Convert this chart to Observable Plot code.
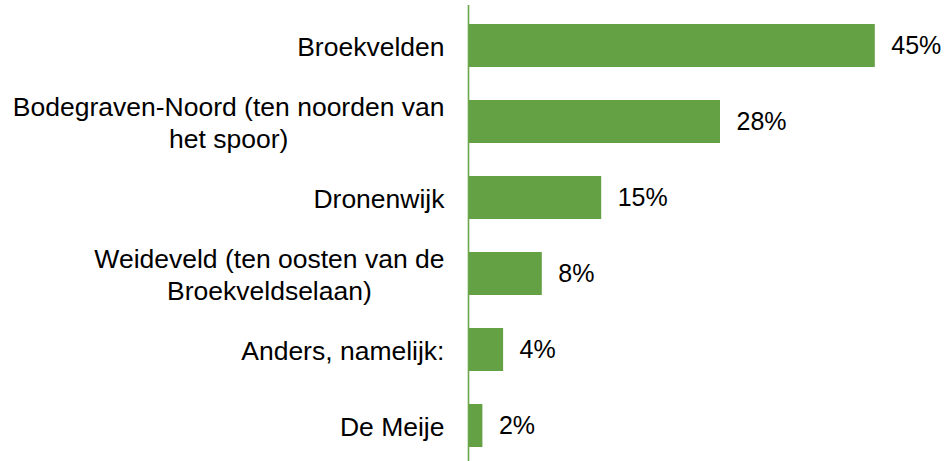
<!DOCTYPE html>
<html>
<head>
<meta charset="utf-8">
<script src="https://cdn.jsdelivr.net/npm/d3@7"></script>
<script src="https://cdn.jsdelivr.net/npm/@observablehq/plot@0.6"></script>
<style>
  html, body { margin: 0; padding: 0; background: #ffffff; }
  #chart svg { display: block; }
</style>
</head>
<body>
<div id="chart"></div>
<script>
const categories = [
  "Broekvelden",
  "Bodegraven-Noord (ten noorden van\nhet spoor)",
  "Dronenwijk",
  "Weideveld (ten oosten van de\nBroekveldselaan)",
  "Anders, namelijk:",
  "De Meije"
];
const shares = [45.2, 28.0, 14.8, 8.2, 3.9, 1.6];
const valueLabels = ["45%", "28%", "15%", "8%", "4%", "2%"];

const data = categories.map((c, i) => ({category: c, value: shares[i], label: valueLabels[i]}));

const green = "#64a044";
const font = "'Liberation Sans', Arial, sans-serif";

const chart = Plot.plot({
  width: 947,
  height: 461,
  marginLeft: 468,
  marginRight: 29,
  marginTop: 5,
  marginBottom: 0,
  style: {fontFamily: font, background: "#ffffff", color: "#000"},
  x: {domain: [0, 50], axis: null},
  y: {domain: categories, range: [5, 465], paddingInner: 0.44, paddingOuter: 0.22, axis: null},
  marks: [
    Plot.barX(data, {x: "value", y: "category", fill: green}),
    Plot.ruleX([0], {stroke: "#6aa64a", strokeWidth: 1.6}),
    Plot.text(data, {x: "value", y: "category", text: "label", textAnchor: "start", dx: 16, fontSize: 25, fill: "#000"}),
    Plot.text(data, {y: "category", text: "category", frameAnchor: "left", textAnchor: "end", dx: -24, fontSize: 26.5, fill: "#000", lineHeight: 1.2})
  ]
});

document.getElementById("chart").appendChild(chart);

// center wrapped lines within each right-aligned label block
const root = chart.tagName.toLowerCase() === "svg" ? chart : chart.querySelector("svg");
root.querySelectorAll("text").forEach(t => {
  const spans = t.querySelectorAll("tspan");
  if (spans.length > 1) {
    const w = t.getBBox().width;
    t.setAttribute("text-anchor", "middle");
    t.style.textAnchor = "middle";
    spans.forEach(s => s.setAttribute("x", -w / 2));
  }
});
</script>
</body>
</html>
